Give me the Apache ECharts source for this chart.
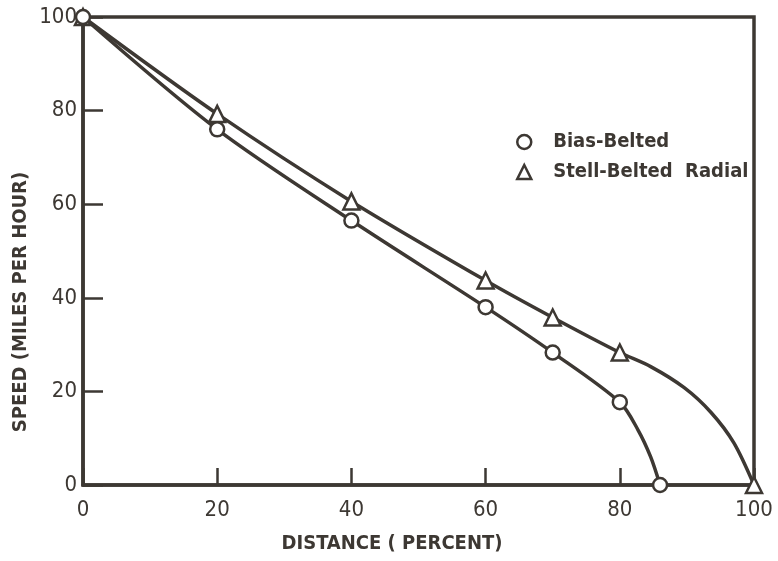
<!DOCTYPE html>
<html>
<head>
<meta charset="utf-8">
<script src="https://cdn.jsdelivr.net/npm/echarts@6/dist/echarts.min.js"></script>
<style>
  html, body { margin: 0; padding: 0; background: #ffffff; }
  #chart { width: 778px; height: 561px; }
</style>
</head>
<body>
<div id="chart"></div>
<script>
// Speed remaining vs. distance travelled after braking, by tire type.
// Measured points carry markers; the extra entries trace the curved tails.
const biasDistance = [0, 20, 40, 60, 70, 80, 82.7, 84.6, 86];
const biasSpeed    = [100, 76, 56.5, 38, 28.3, 17.7, 11.8, 6, 0];
const biasMarked   = [true, true, true, true, true, true, false, false, true];

const radialDistance = [0, 20, 40, 60, 70, 80, 84.6, 89.6, 93.6, 97, 100];
const radialSpeed    = [100, 79.3, 60.6, 43.7, 35.8, 28.3, 25.3, 20.8, 15.5, 9, 0];
const radialMarked   = [true, true, true, true, true, true, false, false, false, false, true];

const seriesNames = ['Bias-Belted', 'Stell-Belted  Radial'];
const xTicks = [0, 20, 40, 60, 80, 100];
const yTicks = [0, 20, 40, 60, 80, 100];

const ink = '#3d3833';
const fontFam = '"DejaVu Sans Condensed", "Liberation Sans Narrow", "Liberation Sans", sans-serif';

function points(xs, ys, marked) {
  return xs.map((x, i) => marked[i] ? [x, ys[i]] : { value: [x, ys[i]], symbol: 'none' });
}

const chart = echarts.init(document.getElementById('chart'));

chart.setOption({
  backgroundColor: '#ffffff',
  animation: false,
  grid: {
    left: 83, right: 24, top: 17, bottom: 76,
    show: true, borderColor: ink, borderWidth: 3.5, backgroundColor: 'transparent'
  },
  xAxis: {
    type: 'value', min: xTicks[0], max: xTicks[xTicks.length - 1], interval: 20,
    axisLine: { show: true, lineStyle: { color: ink, width: 3.5 } },
    axisTick: { show: true, inside: true, length: 17, lineStyle: { color: ink, width: 2.5 } },
    splitLine: { show: false },
    axisLabel: { color: ink, fontFamily: fontFam, fontSize: 22, margin: 14 }
  },
  yAxis: {
    type: 'value', min: yTicks[0], max: yTicks[yTicks.length - 1], interval: 20,
    axisLine: { show: true, lineStyle: { color: ink, width: 3.5 } },
    axisTick: { show: true, inside: true, length: 20, lineStyle: { color: ink, width: 2.5 } },
    splitLine: { show: false },
    axisLabel: { color: ink, fontFamily: fontFam, fontSize: 22, margin: 6 }
  },
  legend: {
    orient: 'vertical', left: 511, top: 126, itemGap: 8,
    itemWidth: 14, itemHeight: 14,
    textStyle: { color: ink, fontFamily: fontFam, fontSize: 20, fontWeight: 'bold', lineHeight: 22, padding: [0, 0, 0, 17] },
    data: [
      { name: seriesNames[0], icon: 'circle', itemStyle: { color: '#fff', borderColor: ink, borderWidth: 2.5 } },
      { name: seriesNames[1], icon: 'triangle', itemStyle: { color: '#fff', borderColor: ink, borderWidth: 2.5 } }
    ]
  },
  graphic: [
    {
      type: 'text', x: 392, y: 544,
      style: { text: 'DISTANCE ( PERCENT)', fill: ink, font: 'bold 20px ' + fontFam, align: 'center', verticalAlign: 'middle' }
    },
    {
      type: 'text', x: 21, y: 302, rotation: Math.PI / 2,
      style: { text: 'SPEED (MILES PER HOUR)', fill: ink, font: 'bold 20px ' + fontFam, align: 'center', verticalAlign: 'middle' }
    }
  ],
  series: [
    {
      name: seriesNames[0], type: 'line', smooth: 0.3,
      data: points(biasDistance, biasSpeed, biasMarked),
      symbol: 'circle', symbolSize: 14,
      lineStyle: { color: ink, width: 3.5 },
      itemStyle: { color: '#fff', borderColor: ink, borderWidth: 2.5 },
      z: 3
    },
    {
      name: seriesNames[1], type: 'line', smooth: 0.3,
      data: points(radialDistance, radialSpeed, radialMarked),
      symbol: 'triangle', symbolSize: 16,
      lineStyle: { color: ink, width: 3.5 },
      itemStyle: { color: '#fff', borderColor: ink, borderWidth: 2.5 },
      z: 2
    }
  ]
});
</script>
</body>
</html>
